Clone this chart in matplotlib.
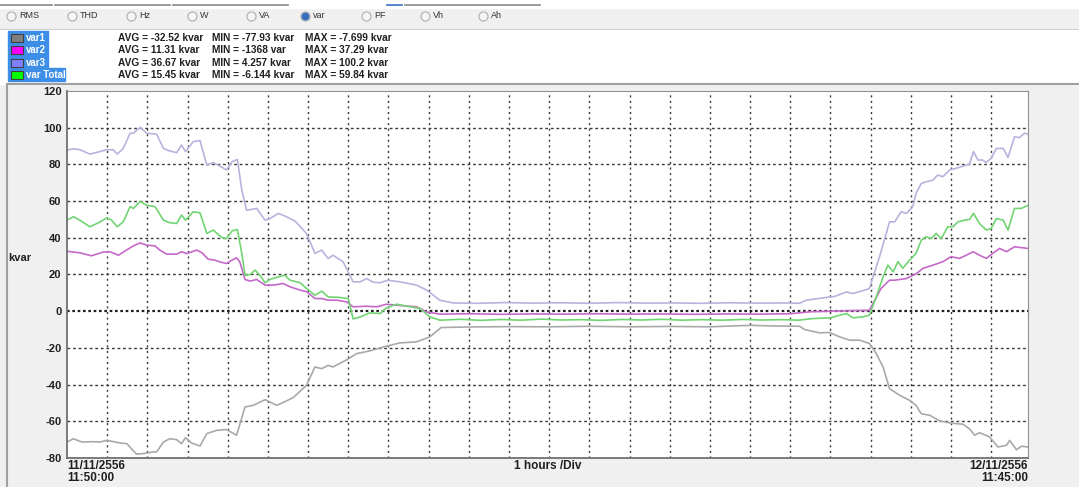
import matplotlib.pyplot as plt
from matplotlib.patches import Rectangle

# kvar readings, hours after 11/11/2556 11:50:00
var1_h = [0, 0.16, 0.37, 0.61, 0.82, 0.99, 1.2, 1.32, 1.49, 1.73, 1.9, 2.15, 2.23, 2.4, 2.56, 2.73,
          2.85, 2.95, 3.1, 3.31, 3.48, 3.73, 3.97, 4.22, 4.43, 4.64, 4.93, 5.22, 5.46, 5.63, 5.96,
          6.17, 6.34, 6.5, 6.62, 6.96, 7.21, 7.54, 7.87, 8.28, 8.7, 9.03, 9.31, 10, 11, 12, 13, 14,
          15, 16, 17, 17.5, 18.23, 18.36, 18.73, 18.98, 19.23, 19.48, 19.73, 19.97, 20.14, 20.31,
          20.47, 20.72, 20.97, 21.13, 21.26, 21.47, 21.72, 21.97, 22.3, 22.46, 22.59, 22.71, 22.96,
          23.17, 23.38, 23.46, 23.63, 23.75, 23.92]
var1_v = [-71.3, -69.5, -71.3, -71.1, -71.3, -70.4, -71.3, -71.8, -72.2, -77.9, -77.6, -76.7, -76.7,
          -71.3, -69.5, -70, -72.2, -68.9, -71.8, -73.5, -66.7, -64.9, -64.5, -67.6, -52.2, -51.3,
          -48.2, -51.3, -48.9, -47.1, -40.4, -30.4, -31.3, -29.5, -30.4, -26.5, -23.1, -21.6, -19.5,
          -17.3, -16.7, -14, -8.9, -8.6, -8.4, -8.5, -8.2, -8.5, -8.3, -8.5, -7.7, -8.0, -8.2, -10,
          -11.8, -11.6, -14, -15.8, -15.8, -17.6, -23.1, -30.4, -42.2, -45.8, -48.6, -51.3, -55.9,
          -56.7, -59.8, -60.9, -61.6, -64.1, -67.6, -66.2, -68.5, -74, -73.1, -70.4, -75.5, -73.6, -74]

var2_h = [0, 0.32, 0.61, 0.9, 1.07, 1.28, 1.48, 1.65, 1.82, 1.98, 2.19, 2.31, 2.48, 2.73, 2.85, 2.98,
          3.23, 3.36, 3.51, 3.68, 3.85, 3.97, 4.1, 4.22, 4.3, 4.43, 4.56, 4.72, 4.93, 5.14, 5.38, 5.55,
          5.8, 5.97, 6.17, 6.34, 6.5, 6.72, 6.96, 7.12, 7.46, 7.71, 7.95, 8.2, 8.7, 8.95, 9.28, 10,
          10.8, 11.6, 12.4, 13.2, 14, 14.8, 15.6, 16.4, 17.2, 18, 18.5, 19, 19.5, 19.97, 20.26, 20.47,
          20.6, 20.89, 21.14, 21.3, 21.55, 21.8, 22.0, 22.21, 22.38, 22.55, 22.71, 22.88, 23.04,
          23.21, 23.38, 23.58, 23.92]
var2_v = [32.7, 31.8, 30.2, 32.2, 32.4, 30.5, 33.3, 35.6, 37.2, 36, 35.6, 33.3, 31.1, 31.1, 32.4,
          31.4, 33.3, 31.8, 28.4, 27.8, 26.6, 26, 27.8, 29.1, 26.9, 17.3, 16.4, 17.3, 14.2, 14.2,
          15.1, 13.3, 11.5, 10.6, 6.9, 6.9, 6, 6, 5.1, 2.4, 2.7, 2.4, 3.8, 3.3, 2.4, -0.4, -1.6,
          -1.4, -1.7, -1.5, -1.6, -1.4, -1.6, -1.5, -1.7, -1.5, -1.6, -1.4, -0.3, 0, 0.3, 0.5, 12.4,
          16.9, 16.9, 17.8, 20.5, 23.3, 25.1, 27, 29.7, 28.8, 30.5, 32.4, 30.5, 28.8, 31.5, 34.2,
          32.4, 35.1, 34.2]

var3_h = [0, 0.16, 0.32, 0.57, 0.82, 0.99, 1.15, 1.25, 1.4, 1.57, 1.65, 1.82, 1.98, 2.23, 2.4, 2.56,
          2.73, 2.85, 2.95, 3.14, 3.31, 3.48, 3.64, 3.81, 3.97, 4.11, 4.24, 4.35, 4.47, 4.72, 4.93,
          5.05, 5.26, 5.46, 5.68, 5.96, 6.17, 6.34, 6.5, 6.62, 6.87, 7.12, 7.29, 7.46, 7.62, 7.79,
          7.99, 8.28, 8.7, 8.95, 9.28, 9.61, 10.2, 10.9, 11.6, 12.3, 13.0, 13.7, 14.4, 15.1, 15.8,
          16.5, 17.2, 17.9, 18.23, 18.4, 18.9, 19.1, 19.4, 19.56, 19.9, 19.97, 20.22, 20.39, 20.47,
          20.6, 20.76, 20.89, 21.05, 21.13, 21.26, 21.38, 21.55, 21.67, 21.8, 21.97, 22.21, 22.46,
          22.56, 22.67, 22.79, 22.87, 23.0, 23.13, 23.3, 23.42, 23.58, 23.7, 23.83, 23.92]
var3_v = [87.8, 88.5, 88, 85.6, 87, 88, 88, 85.6, 88.7, 97, 97, 100.2, 97, 96.5, 88.7, 87.3, 86.4,
          90.5, 87, 92.4, 93, 79.6, 81, 79, 77, 81.5, 82.7, 66, 55, 56, 49.6, 50.5, 53.3, 51.5, 49,
          42.4, 31.5, 33.3, 28.7, 30.5, 27, 16, 16, 17.8, 15.8, 15.5, 16.9, 16, 14.2, 11.5, 6, 4.5,
          4.3, 4.7, 4.4, 4.6, 4.3, 4.7, 4.4, 4.5, 4.3, 4.6, 4.4, 4.5, 4.3, 6, 7.5, 8, 10.5, 9.6,
          11.8, 12.4, 29.6, 42.4, 48.7, 48.7, 54.2, 53.3, 57, 64.2, 69.6, 70.5, 71.4, 74.2, 73.3,
          77, 78.4, 80.2, 87, 82.4, 82.4, 81, 83.3, 88.7, 88.7, 83.8, 95, 94.6, 97, 96.5]

total_h = [0, 0.16, 0.32, 0.57, 0.82, 0.99, 1.11, 1.25, 1.4, 1.57, 1.65, 1.82, 1.98, 2.19, 2.4, 2.56,
           2.73, 2.85, 2.95, 3.14, 3.31, 3.48, 3.64, 3.85, 3.97, 4.11, 4.24, 4.35, 4.43, 4.56, 4.68,
           4.8, 4.93, 5.05, 5.26, 5.42, 5.55, 5.8, 5.96, 6.17, 6.34, 6.5, 6.79, 7.0, 7.12, 7.29,
           7.54, 7.79, 7.95, 8.2, 8.54, 8.78, 9.03, 9.28, 9.8, 10.3, 10.8, 11.3, 11.8, 12.3, 12.8,
           13.3, 13.8, 14.3, 14.8, 15.3, 15.8, 16.3, 16.8, 17.3, 17.8, 18.2, 18.57, 19.0, 19.23,
           19.4, 19.56, 19.8, 19.97, 20.14, 20.31, 20.43, 20.56, 20.68, 20.8, 20.97, 21.13, 21.26,
           21.38, 21.51, 21.63, 21.76, 21.92, 22.05, 22.17, 22.34, 22.46, 22.56, 22.71, 22.88, 23.0,
           23.13, 23.3, 23.42, 23.58, 23.75, 23.92]
total_v = [49.6, 51.5, 49.6, 46, 48.6, 50.9, 49.6, 46, 48.7, 57, 56, 59.8, 57.8, 57, 49.6, 48.2, 47.8,
           52.4, 49.6, 54.2, 53.6, 42.4, 44.2, 40.2, 39.6, 43.8, 44.5, 31.5, 19.6, 20, 22.4, 19.6,
           15.5, 17.3, 18.7, 19.6, 16.9, 15.5, 12.4, 8.7, 10.9, 7.8, 7.5, 6.9, -4.2, -3.2, -0.9,
           -1.3, 1.8, 3.8, 2.4, 1.5, -3.1, -4.9, -4.4, -5.0, -4.5, -4.9, -4.3, -4.8, -4.6, -5.0,
           -4.5, -4.8, -4.4, -4.9, -4.6, -4.9, -4.5, -4.8, -4.6, -4.9, -4, -3.6, -2.2, -1.3, -3.6,
           -3.1, -2.2, 7.8, 18.7, 25.1, 21.4, 27, 23.4, 27.8, 31.5, 38.7, 40.6, 39.6, 42.4, 39.6, 46,
           46, 48.7, 49.6, 50, 53.3, 47.8, 44.2, 45.1, 50.5, 49.6, 44.2, 56, 56, 57.8]

series_names = ["var1", "var2", "var3", "var Total"]
series_avg = ["AVG = -32.52 kvar", "AVG = 11.31 kvar", "AVG = 36.67 kvar", "AVG = 15.45 kvar"]
series_min = ["MIN = -77.93 kvar", "MIN = -1368 var", "MIN = 4.257 kvar", "MIN = -6.144 kvar"]
series_max = ["MAX = -7.699 kvar", "MAX = 37.29 kvar", "MAX = 100.2 kvar", "MAX = 59.84 kvar"]
swatch_colors = ["#7f7f7f", "#ff00ff", "#8080ff", "#00ff00"]
line_colors = ["#a9a9a9", "#c569c9", "#b9b2dd", "#72d472"]

radio_labels = ["RMS", "THD", "Hz", "W", "VA", "var", "PF", "Vh", "Ah"]
radio_x = [7, 68, 127, 188, 247, 301, 362, 421, 479]

yticks = [-80, -60, -40, -20, 0, 20, 40, 60, 80, 100, 120]
span_h = 23 + 55 / 60   # 11:50 to 11:45 next day

W, H = 1079, 487
fig = plt.figure(figsize=(W / 100, H / 100), dpi=100)
fig.patch.set_facecolor("#f0f0f0")
bold = dict(family="Liberation Sans", weight="bold")


def fx(px):
    return px / W


def fy(py):
    return 1 - py / H


# header: tab strip, radio row, legend panel
fig.patches.append(Rectangle((0, fy(8)), 1, 8 / H, transform=fig.transFigure, color="white", zorder=0))
for x0, x1, c in [(0, 52, "#8a8a8a"), (55, 170, "#8a8a8a"), (173, 288, "#8a8a8a"),
                  (387, 402, "#3a6fc0"), (405, 540, "#8a8a8a")]:
    fig.add_artist(plt.Line2D([fx(x0), fx(x1)], [fy(5), fy(5)], color=c, lw=1.2))
fig.patches.append(Rectangle((0, fy(84)), 1, 54 / H, transform=fig.transFigure,
                             color="white", zorder=0))
fig.add_artist(plt.Line2D([0, 1], [fy(29), fy(29)], color="#d0d0d0", lw=0.8))
fig.add_artist(plt.Line2D([fx(7), 1], [fy(84), fy(84)], color="#a0a0a0", lw=1.5))
fig.add_artist(plt.Line2D([fx(7), fx(7)], [0, fy(84)], color="#a0a0a0", lw=1.5))

for lbl, x in zip(radio_labels, radio_x):
    sel = lbl == "var"
    fig.add_artist(plt.Line2D([fx(x + 4)], [fy(16)], marker="o", markersize=6.5,
                              markerfacecolor="#3a6fc0" if sel else "#f6f6f6",
                              markeredgecolor="#b4b4b4", markeredgewidth=0.9))
    fig.text(fx(x + 12), fy(16), lbl, fontsize=6.5, color="#333333", va="center",
             family="Liberation Sans")

row_y = [38, 50, 63, 75]
name_w = [40, 40, 40, 57]
for i, y in enumerate(row_y):
    fig.patches.append(Rectangle((fx(8), fy(y + 6)), name_w[i] / W, 12.5 / H,
                                 transform=fig.transFigure, color="#3d8ee6", zorder=1))
    fig.patches.append(Rectangle((fx(11), fy(y + 4)), 12 / W, 8 / H, transform=fig.transFigure,
                                 facecolor=swatch_colors[i], edgecolor="#404040", lw=0.8, zorder=2))
    fig.text(fx(26), fy(y), series_names[i], color="white", fontsize=7, va="center", zorder=3, **bold)
    fig.text(fx(118), fy(y), series_avg[i], color="#202020", fontsize=7.3, va="center", **bold)
    fig.text(fx(212), fy(y), series_min[i], color="#202020", fontsize=7.3, va="center", **bold)
    fig.text(fx(305), fy(y), series_max[i], color="#202020", fontsize=7.3, va="center", **bold)

# plot area
ax = fig.add_axes([fx(67), fy(458), fx(1028 - 67), (458 - 91) / H])
ax.set_facecolor("white")
ax.set_xlim(0, span_h)
ax.set_ylim(-80, 120)

for h in range(1, 24):
    ax.axvline(h, color="#3a3a3a", lw=1.0, ls=(0, (1.5, 2.5)), zorder=1)
for v in yticks[1:-1]:
    if v == 0:
        ax.axhline(v, color="#202020", lw=1.6, ls=(0, (1.2, 1.2)), zorder=1)
    else:
        ax.axhline(v, color="#3a3a3a", lw=1.0, ls=(0, (2, 2)), zorder=1)

series = [(var1_h, var1_v), (var2_h, var2_v), (var3_h, var3_v), (total_h, total_v)]
for (hs, vs), c in zip(series, line_colors):
    ax.plot(hs, vs, color=c, lw=1.2, zorder=2)

ax.set_yticks(yticks)
ax.set_yticklabels([str(v) for v in yticks], fontsize=8, color="#202020", **bold)
ax.tick_params(axis="y", length=0, pad=4)
ax.set_xticks([])
for s in ["left", "bottom"]:
    ax.spines[s].set_color("#707070")
    ax.spines[s].set_linewidth(1.3)
for s in ["top", "right"]:
    ax.spines[s].set_color("#909090")
    ax.spines[s].set_linewidth(0.8)

fig.text(fx(8), fy(258), "kvar", fontsize=8, color="#202020", va="center", **bold)
fig.text(fx(67), fy(460), "11/11/2556\n11:50:00", fontsize=8.5, color="#202020", va="top",
         linespacing=1.0, **bold)
fig.text(fx(1028), fy(460), "12/11/2556\n11:45:00", fontsize=8.5, color="#202020", va="top",
         ha="right", linespacing=1.0, **bold)
fig.text(fx(548), fy(460), "1 hours /Div", fontsize=8.5, color="#202020", va="top", ha="center", **bold)

fig.savefig("out.png", dpi=100, facecolor=fig.get_facecolor())
